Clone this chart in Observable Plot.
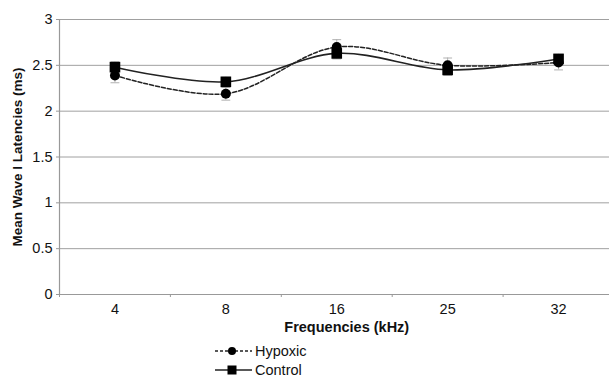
<!DOCTYPE html>
<html>
<head>
<meta charset="utf-8">
<script src="https://cdn.jsdelivr.net/npm/d3@7"></script>
<script src="https://cdn.jsdelivr.net/npm/@observablehq/plot@0.6"></script>
<style>
  body { margin: 0; background: #fff; font-family: "Liberation Sans", Arial, sans-serif; }
  #chart svg { display: block; }
  .legend { padding-left: 215px; font-size: 14.5px; color: #111; margin-top: 1px; }
  .legend .row { height: 19px; display: flex; align-items: center; }
  .legend svg { margin-right: 3px; }
</style>
</head>
<body>
<div id="chart"></div>
<div class="legend">
  <div class="row"><svg width="37" height="12"><line x1="0" y1="6" x2="37" y2="6" stroke="#222" stroke-width="1.3" stroke-dasharray="3,2"/><circle cx="17" cy="6" r="4" fill="#000"/></svg>Hypoxic</div>
  <div class="row"><svg width="37" height="12"><line x1="0" y1="6" x2="37" y2="6" stroke="#222" stroke-width="1.6"/><rect x="12.5" y="1.5" width="9" height="9" fill="#000"/></svg>Control</div>
</div>
<script>
const categories = ["4", "8", "16", "25", "32"];
const hypoxic = [2.39, 2.19, 2.70, 2.50, 2.53];
const hypoxicErr = [0.08, 0.07, 0.08, 0.08, 0.08];
const control = [2.48, 2.32, 2.63, 2.45, 2.57];
const controlErr = [0.06, 0.05, 0.06, 0.06, 0.05];
const yTicks = [0, 0.5, 1, 1.5, 2, 2.5, 3];
const xTitle = "Frequencies (kHz)";
const yTitle = "Mean Wave I Latencies (ms)";

const idx = categories.map((c, i) => i);
const boundaries = categories.map((c, i) => i - 0.5).concat([categories.length - 0.5]);
const rows = (vals, errs, name) => vals.map((v, i) => ({i, v, lo: v - errs[i], hi: v + errs[i], name}));
const H = rows(hypoxic, hypoxicErr, "Hypoxic");
const C = rows(control, controlErr, "Control");
const capW = 0.04;

const chart = Plot.plot({
  width: 609,
  height: 340,
  marginTop: 19,
  marginBottom: 46,
  marginLeft: 59,
  marginRight: -4.5,
  style: {fontFamily: "Liberation Sans, Arial, sans-serif", fontSize: "14px", color: "#111", overflow: "visible"},
  x: {domain: [-0.5, categories.length - 0.5]},
  y: {domain: [0, 3]},
  marks: [
    Plot.gridY(yTicks, {stroke: "#a0a0a0", strokeOpacity: 1, strokeWidth: 1}),
    Plot.ruleX([-0.5], {stroke: "#999", strokeWidth: 1.2}),
    Plot.ruleY([0], {stroke: "#999", strokeWidth: 1.2}),
    Plot.axisY(yTicks, {tickSize: 3, tickPadding: 4, stroke: "#999", tickFormat: d => String(d), fontSize: 14.5, label: null}),
    Plot.axisX(boundaries, {tickSize: 3, stroke: "#999", tickFormat: () => "", label: null}),
    Plot.axisX(idx, {tickSize: 0, tickPadding: 9, tickFormat: i => categories[i], fontSize: 14.5, label: null}),
    Plot.text([yTitle], {frameAnchor: "left", textAnchor: "middle", rotate: -90, dx: -42, fontWeight: "bold", fontSize: 13.5, fill: "#111"}),
    Plot.text([xTitle], {frameAnchor: "bottom", dy: 37, dx: 10, fontWeight: "bold", fontSize: 14.5, fill: "#111"}),
    // error bars
    Plot.ruleX(H.concat(C), {x: "i", y1: "lo", y2: "hi", stroke: "#b0b0b0", strokeWidth: 1}),
    Plot.link(H.concat(C), {x1: d => d.i - capW, x2: d => d.i + capW, y1: "hi", y2: "hi", stroke: "#b0b0b0"}),
    Plot.link(H.concat(C), {x1: d => d.i - capW, x2: d => d.i + capW, y1: "lo", y2: "lo", stroke: "#b0b0b0"}),
    // lines
    Plot.line(H, {x: "i", y: "v", curve: "catmull-rom", stroke: "#222", strokeWidth: 1.5, strokeDasharray: "4,2"}),
    Plot.line(C, {x: "i", y: "v", curve: "catmull-rom", stroke: "#222", strokeWidth: 1.6}),
    Plot.dot(H, {x: "i", y: "v", r: 5, fill: "#000", stroke: "none"}),
    Plot.dot(C, {x: "i", y: "v", r: 6, symbol: "square", fill: "#000", stroke: "none"})
  ]
});
document.getElementById("chart").append(chart);
</script>
</body>
</html>
